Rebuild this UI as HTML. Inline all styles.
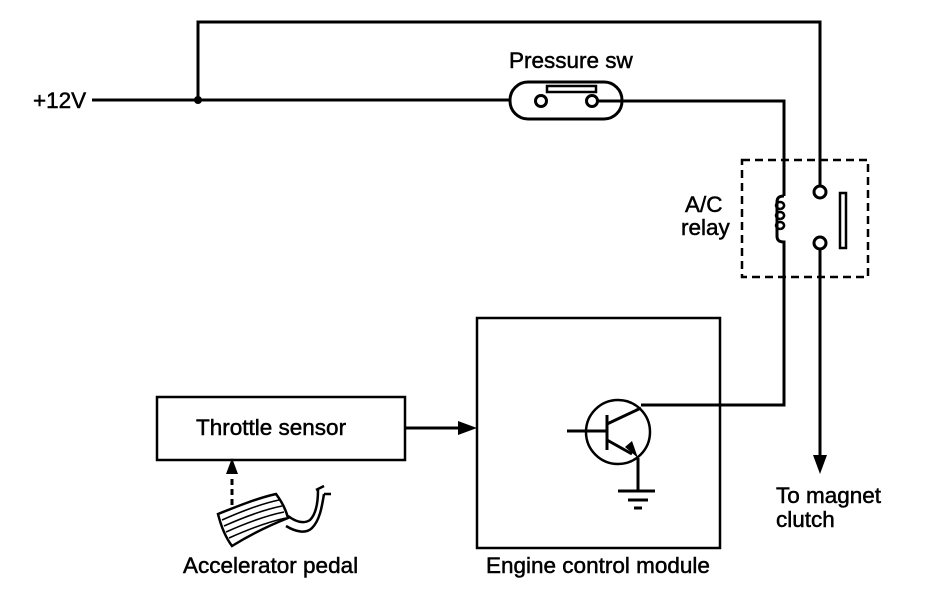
<!DOCTYPE html>
<html><head><style>body{margin:0;background:#fff}svg{display:block}text{font-family:"Liberation Sans",Arial,sans-serif;font-size:22.5px;fill:#000;stroke:#000;stroke-width:0.5}</style></head><body>
<svg width="928" height="606" viewBox="0 0 928 606" xmlns="http://www.w3.org/2000/svg">
<g fill="none" stroke="#000" stroke-width="3">
<path d="M92 100H510"/>
<path d="M198 100V22H820V186"/>
<rect x="510" y="82" width="112" height="37" rx="18"/>
<circle cx="541" cy="101" r="5.5"/><circle cx="592" cy="101" r="5.5"/>
<rect x="547" y="86" width="49" height="6" stroke-width="2.5"/>
<path d="M597 101H784V196"/>
<path d="M784 196c-6 0-7 3-7 6v34c0 3 1 6 7 6V405H641"/>
<path d="M780 209a4 3.5 0 1 1 0.1 0M780 219a4 3.5 0 1 1 0.1 0M780 229a4 3.5 0 1 1 0.1 0" stroke-width="2.5"/>
<circle cx="820" cy="192" r="6"/><circle cx="820" cy="243" r="6"/>
<rect x="840" y="193" width="6" height="55" stroke-width="2.5"/>
<path d="M820 249V458"/>
<rect x="742" y="160" width="126" height="117" stroke-width="2.5" stroke-dasharray="8 5"/>
<rect x="477" y="318" width="243" height="230" stroke-width="2.5"/>
<rect x="157" y="397" width="248" height="63" stroke-width="2.5"/>
<path d="M405 428H460"/>
<circle cx="618" cy="432" r="32" stroke-width="2.5"/>
<path d="M567 431H607M607 415V450M607 424L641 408M607 440L632 454M638 458V490M618 491H655M628 500H648M634 508H642"/>
<path d="M232 505V478" stroke-dasharray="6 4"/>
<path d="M218 514c20-8 40-16 58-20c6 8 10 16 12 24c-20 8-40 18-56 28c-6-8-11-20-14-32z" stroke-width="2.5"/>
<path d="M222 520c18-8 38-16 57-20M224 526c18-8 38-16 58-20M226 532c18-8 38-16 58-20M229 538c18-8 38-16 57-20" stroke-width="1.6"/>
<path d="M288 516c8 6 16 8 22 4c6-6 8-18 8-30M286 526c10 6 20 8 26 2c8-8 10-22 12-34M316 490l8-4M324 494l7 0" stroke-width="2.5"/>
</g>
<circle cx="198" cy="100" r="4" fill="#000"/>
<g fill="#000">
<path d="M477 428L458 421V435Z"/>
<path d="M820 474L813 455H827Z"/>
<path d="M638 458L625 447L632 441Z"/>
<path d="M232 458L226 474H238Z"/>
</g>
<text x="33" y="108">+12V</text>
<text x="509" y="68">Pressure sw</text>
<text x="685" y="212">A/C</text>
<text x="681" y="235">relay</text>
<text x="196" y="435">Throttle sensor</text>
<text x="183" y="573">Accelerator pedal</text>
<text x="486" y="573">Engine control module</text>
<text x="776" y="503">To magnet</text>
<text x="776" y="527">clutch</text>
</svg>
</body></html>
